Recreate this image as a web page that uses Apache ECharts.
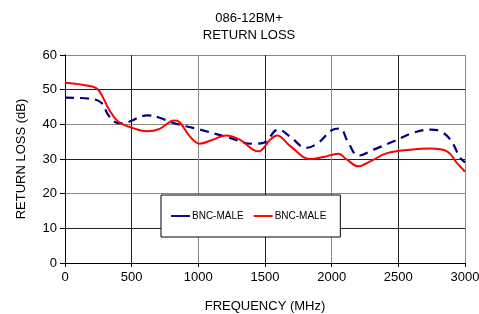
<!DOCTYPE html>
<html>
<head>
<meta charset="utf-8">
<title>086-12BM+ Return Loss</title>
<script src="https://cdn.jsdelivr.net/npm/echarts@6/dist/echarts.min.js"></script>
<style>
  body { margin: 0; background: #fff; }
  #chart { width: 479px; height: 314px; }
</style>
</head>
<body>
<div id="chart"></div>
<script type="text/javascript">
// frequency (MHz) / return loss (dB)
var blueFreq = [0, 180, 270, 330, 405, 460, 620, 710, 820, 1010, 1210, 1410, 1490, 1600, 1690, 1810, 1900, 2000, 2060, 2125, 2200, 2315, 2465, 2615, 2740, 2815, 2890, 2965, 3000];
var blueLoss = [47.7, 47.4, 46.3, 42.4, 40.3, 40.5, 42.6, 41.9, 40.3, 38.5, 36.4, 34.4, 34.7, 38.5, 36.4, 33.2, 34.7, 38.3, 38.8, 34.7, 31.0, 32.7, 35.1, 37.6, 38.5, 38.0, 35.6, 30.3, 29.0];
var redFreq = [0, 205, 255, 330, 395, 480, 620, 710, 820, 860, 935, 1010, 1110, 1210, 1310, 1450, 1540, 1590, 1690, 1840, 1940, 2050, 2115, 2200, 2290, 2415, 2590, 2740, 2865, 2940, 3000];
var redLoss = [52.0, 50.9, 49.7, 44.3, 40.9, 39.3, 38.0, 38.7, 41.1, 40.6, 36.6, 34.4, 35.6, 36.8, 35.6, 32.2, 35.6, 36.8, 33.7, 30.0, 30.6, 31.5, 29.8, 27.9, 29.3, 31.7, 32.7, 33.0, 32.2, 28.8, 26.4];
var seriesNames = ['BNC-MALE', 'BNC-MALE'];

function pairs(xs, ys) {
  var out = [];
  for (var i = 0; i < xs.length; i++) out.push([xs[i], ys[i]]);
  return out;
}

var chart = echarts.init(document.getElementById('chart'));
var font = 'Liberation Sans, Arial, sans-serif';
var option = {
  animation: false,
  textStyle: { fontFamily: font },
  title: {
    text: '086-12BM+\nRETURN LOSS',
    left: 244, top: 5, textAlign: 'center',
    textStyle: { fontSize: 13, fontWeight: 'normal', color: '#000', lineHeight: 17, fontFamily: font }
  },
  grid: { left: 65, right: 14, top: 55, bottom: 51, outerBoundsMode: 'none' },
  legend: {
    left: 161, top: 195,
    padding: [16, 14, 16, 10],
    itemGap: 10, itemWidth: 19, itemHeight: 8,
    borderColor: '#000', borderWidth: 1, backgroundColor: '#fff',
    textStyle: { fontSize: 10, color: '#000', fontFamily: font, padding: [0, 0, 0, -3] },
    data: [
      { name: 'blue', icon: 'path://M0,0 L20,0 L20,2 L0,2 Z', itemStyle: { color: '#000080' } },
      { name: 'red', icon: 'path://M0,0 L20,0 L20,2 L0,2 Z', itemStyle: { color: '#ff0000' } }
    ],
    formatter: function (n) { return n === 'blue' ? seriesNames[0] : seriesNames[1]; }
  },
  xAxis: {
    type: 'value', min: 0, max: 3000, interval: 500,
    name: 'FREQUENCY (MHz)', nameLocation: 'middle', nameGap: 37,
    nameTextStyle: { fontSize: 13, color: '#000' },
    axisLine: { lineStyle: { color: '#000' } },
    axisTick: { show: true, length: 4, lineStyle: { color: '#000' } },
    axisLabel: { fontSize: 13, color: '#000', margin: 8, formatter: function (v) { return String(v); } },
    splitLine: { show: true, lineStyle: { color: ['#888', '#222'], width: 1 } }
  },
  yAxis: {
    type: 'value', min: 0, max: 60, interval: 10,
    name: 'RETURN LOSS (dB)', nameLocation: 'middle', nameGap: 37,
    nameTextStyle: { fontSize: 13, color: '#000' },
    axisLine: { show: true, lineStyle: { color: '#000' } },
    axisTick: { show: true, length: 5, lineStyle: { color: '#000' } },
    axisLabel: { fontSize: 13, color: '#000', margin: 8 },
    splitLine: { show: true, lineStyle: { color: ['#888', '#222'], width: 1 } }
  },
  series: [
    {
      name: 'blue', type: 'line', smooth: 0.4, symbol: 'none',
      lineStyle: { color: '#000080', width: 2.2, type: [9, 6] },
      data: pairs(blueFreq, blueLoss)
    },
    {
      name: 'red', type: 'line', smooth: 0.4, symbol: 'none',
      lineStyle: { color: '#ff0000', width: 2 },
      data: pairs(redFreq, redLoss)
    }
  ]
};
chart.setOption(option);
</script>
</body>
</html>
